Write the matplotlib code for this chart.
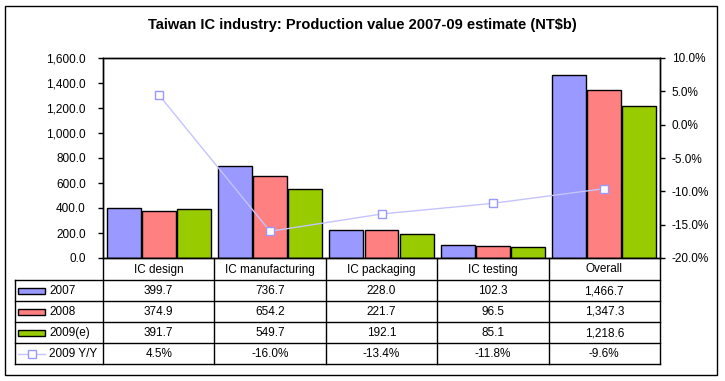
import matplotlib
matplotlib.use("Agg")
import matplotlib.pyplot as plt
import matplotlib.transforms as mtransforms
from matplotlib.patches import Rectangle
from matplotlib.lines import Line2D
from matplotlib.ticker import FuncFormatter

plt.rcParams['font.family'] = ['Liberation Sans', 'DejaVu Sans']

categories = ["IC design", "IC manufacturing", "IC packaging", "IC testing", "Overall"]
v2007 = [399.7, 736.7, 228.0, 102.3, 1466.7]
v2008 = [374.9, 654.2, 221.7, 96.5, 1347.3]
v2009 = [391.7, 549.7, 192.1, 85.1, 1218.6]
yoy = [4.5, -16.0, -13.4, -11.8, -9.6]
series_names = ["2007", "2008", "2009(e)"]
line_name = "2009 Y/Y"
title = "Taiwan IC industry: Production value 2007-09 estimate (NT$b)"

colors = ["#9999FF", "#FF8080", "#99CC00"]
line_color = "#C4C4FF"
marker_edge = "#9999FF"

W, H = 725, 381
fig = plt.figure(figsize=(W / 100, H / 100), dpi=100)

# overlay axes in pixel coordinates
ov = fig.add_axes([0, 0, 1, 1], zorder=0)
ov.set_xlim(0, W)
ov.set_ylim(H, 0)
ov.axis('off')

L, R, T, B = 103, 660, 58, 258
ax = fig.add_axes([L / W, (H - B) / H, (R - L) / W, (B - T) / H], zorder=2)
ax.patch.set_alpha(0)

n = len(categories)
xs = list(range(n))
bw = 0.305
off = 0.315
for j, vals in enumerate([v2007, v2008, v2009]):
    ax.bar([x + (j - 1) * off for x in xs], vals, width=bw, color=colors[j],
           edgecolor='black', linewidth=1.0, zorder=2)
ax.set_xlim(-0.5, n - 0.5)
ax.set_ylim(0, 1600)
ax.set_yticks(range(0, 1601, 200))
ax.yaxis.set_major_formatter(FuncFormatter(lambda v, p: f"{v:,.1f}"))
ax.set_xticks([])
ax.tick_params(axis='y', direction='out', length=3.5, width=1, labelsize=8.5, pad=9)
for s in ax.spines.values():
    s.set_linewidth(1.0)

ax2 = ax.twinx()
ax2.plot(xs, yoy, color=line_color, linewidth=1.0, marker='s', markersize=6,
         markerfacecolor='white', markeredgecolor=marker_edge, markeredgewidth=1.0, zorder=3)
ax2.set_ylim(-20, 10)
ax2.set_yticks(range(-20, 11, 5))
ax2.yaxis.set_major_formatter(FuncFormatter(lambda v, p: f"{v:.1f}%"))
ax2.tick_params(axis='y', direction='out', length=3.5, width=1, labelsize=8.5, pad=5)
for s in ax2.spines.values():
    s.set_linewidth(1.0)

# title
ov.text(W / 2 + 0, 25, title, ha='center', va='center', fontsize=10.5, fontweight='bold')

# outer border
ov.add_patch(Rectangle((5.5, 5.5), 712, 369.5, fill=False, edgecolor='black', linewidth=1.0))

# data table
fig.canvas.draw()
bt = mtransforms.blended_transform_factory(ax.transData, ov.transData)
row_y = [258, 280, 301, 322, 343, 364]
TL = 15
lw = 1.0
for k, yv in enumerate(row_y):
    if k == 0:
        continue
    ov.plot([TL, R], [yv, yv], color='black', linewidth=lw)
bounds = [i - 0.5 for i in range(n + 1)]
for b in bounds:
    ov.plot([b, b], [row_y[0], row_y[-1]], color='black', linewidth=lw, transform=bt)
ov.plot([TL, TL], [row_y[1], row_y[-1]], color='black', linewidth=lw)

fs = 8.5
for i, c in enumerate(categories):
    ov.text(i, (row_y[0] + row_y[1]) / 2 + 0.5, c, ha='center', va='center', fontsize=fs, transform=bt)

rows = [v2007, v2008, v2009]
for r, vals in enumerate(rows):
    yc = (row_y[r + 1] + row_y[r + 2]) / 2 + 0.5
    for i, v in enumerate(vals):
        ov.text(i, yc, f"{v:,.1f}", ha='center', va='center', fontsize=fs, transform=bt)
    ov.add_patch(Rectangle((18.5, yc - 3), 26.5, 6, facecolor=colors[r], edgecolor='black', linewidth=1.0))
    ov.text(49, yc, series_names[r], ha='left', va='center', fontsize=fs)

yc = (row_y[4] + row_y[5]) / 2 + 0.5
for i, v in enumerate(yoy):
    ov.text(i, yc, f"{v:.1f}%", ha='center', va='center', fontsize=fs, transform=bt)
ov.add_line(Line2D([18.5, 45], [yc, yc], color=line_color, linewidth=1.0))
ov.add_line(Line2D([32], [yc], marker='s', markersize=6, markerfacecolor='white',
                   markeredgecolor=marker_edge, markeredgewidth=1.0, linestyle='none'))
ov.text(49, yc, line_name, ha='left', va='center', fontsize=fs)

fig.savefig("out.png", dpi=100)
